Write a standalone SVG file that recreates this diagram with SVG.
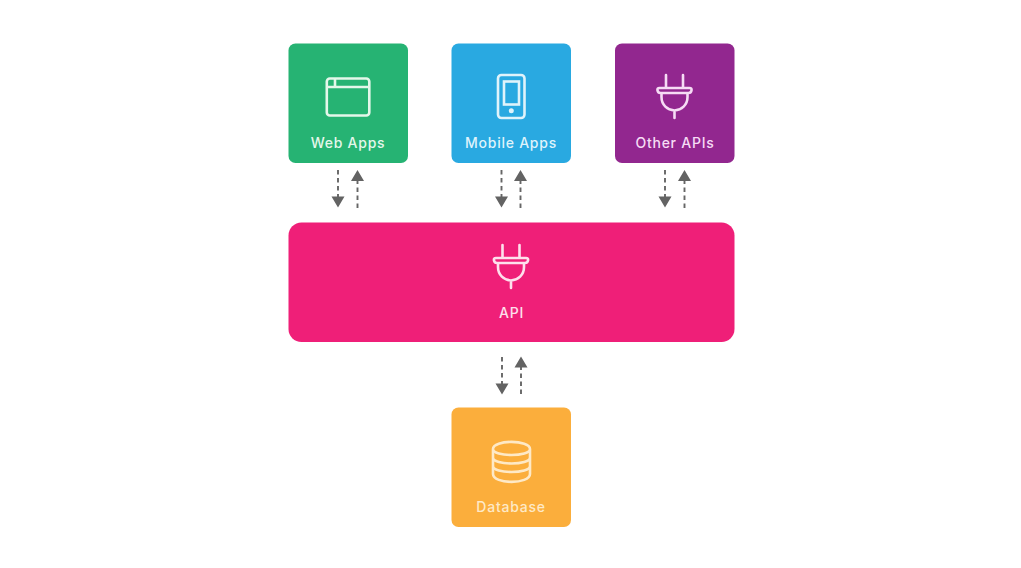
<svg xmlns="http://www.w3.org/2000/svg" width="1021" height="568" viewBox="0 0 1021 568">
<defs>
<g id="plug" fill="none" stroke-linecap="round" stroke-linejoin="round">
<path d="M-8.500 -22V-9M8.500 -22V-9M-15 -9H15Q17.500 -9 17 -6.500Q16.500 -4 14 -4H-14Q-16.500 -4 -17 -6.500Q-17.500 -9 -15 -9ZM-13 -4V0C-13 8 -7 13 0 13.500C7 13 13 8 13 0V-4M0 13.500V21"/>
</g>
</defs>
<style>
text{font-family:"Inter","Open Sans","Liberation Sans",sans-serif;font-size:14px;font-weight:500;text-anchor:middle;letter-spacing:.75px}
.i{fill:none;stroke-width:2.600}
.d{stroke:#666;stroke-width:1.900;stroke-dasharray:4.500 3.500;fill:none}
.h{fill:#636363}
</style>
<rect width="1021" height="568" fill="#fff"/>
<g id="web-apps">
<rect x="288.500" y="43.500" width="119.500" height="119.500" rx="7" fill="#26b373"/>
<g class="i" stroke="#e4f7ea"><rect x="326.800" y="78.500" width="42.500" height="37" rx="3"/><path d="M327 87H369M335 78.500V87"/></g>
<text x="348" y="148" fill="#e4f7ea">Web Apps</text>
</g>
<g id="mobile-apps">
<rect x="451.500" y="43.500" width="119.500" height="119.500" rx="7" fill="#29a9e1"/>
<g class="i" stroke="#dff3fb"><rect x="498" y="75" width="26.500" height="43" rx="3.500"/><rect x="504" y="81.500" width="15" height="23"/></g>
<circle cx="511.300" cy="110.800" r="2.500" fill="#dff3fb"/>
<text x="511" y="148" fill="#dff3fb">Mobile Apps</text>
</g>
<g id="other-apis">
<rect x="615" y="43.500" width="119.500" height="119.500" rx="7" fill="#92278f"/>
<use href="#plug" x="674.500" y="97" stroke="#f6dcf5" stroke-width="2.600"/>
<text x="675" y="148" fill="#f6dcf5">Other APIs</text>
</g>
<g id="api">
<rect x="288.500" y="222.500" width="446" height="119.500" rx="13" fill="#ef1f78"/>
<use href="#plug" x="511" y="267" stroke="#fde0ec" stroke-width="2.600"/>
<text x="511.500" y="318" fill="#fde0ec">API</text>
</g>
<g id="database">
<rect x="451.500" y="407.500" width="119.500" height="119.500" rx="7" fill="#fbae3c"/>
<g class="i" stroke="#fee9c6"><path d="M493 449C493 439.500 530 439.500 530 449V474C530 484.500 493 484.500 493 474ZM493 449C493 457 530 457 530 449M493 457.500C493 465.500 530 465.500 530 457.500M493 466C493 474 530 474 530 466"/></g>
<text x="511" y="512" fill="#fee9c6">Database</text>
</g>
<g id="connectors">
<path class="d" d="M338 170V197M357.500 208V181M501.500 170V197M520.500 208V181M665 170V197M684.500 208V181M502 357V384M521 394V367"/>
<path class="h" d="M331.500 196.500H344.500L338 207.500ZM351 181H364L357.500 170ZM495 196.500H508L501.500 207.500ZM514 181H527L520.500 170ZM658.500 196.500H671.500L665 207.500ZM678 181H691L684.500 170ZM495.500 383.500H508.500L502 394.500ZM514.500 367.500H527.500L521 356.500Z"/>
</g>
</svg>
